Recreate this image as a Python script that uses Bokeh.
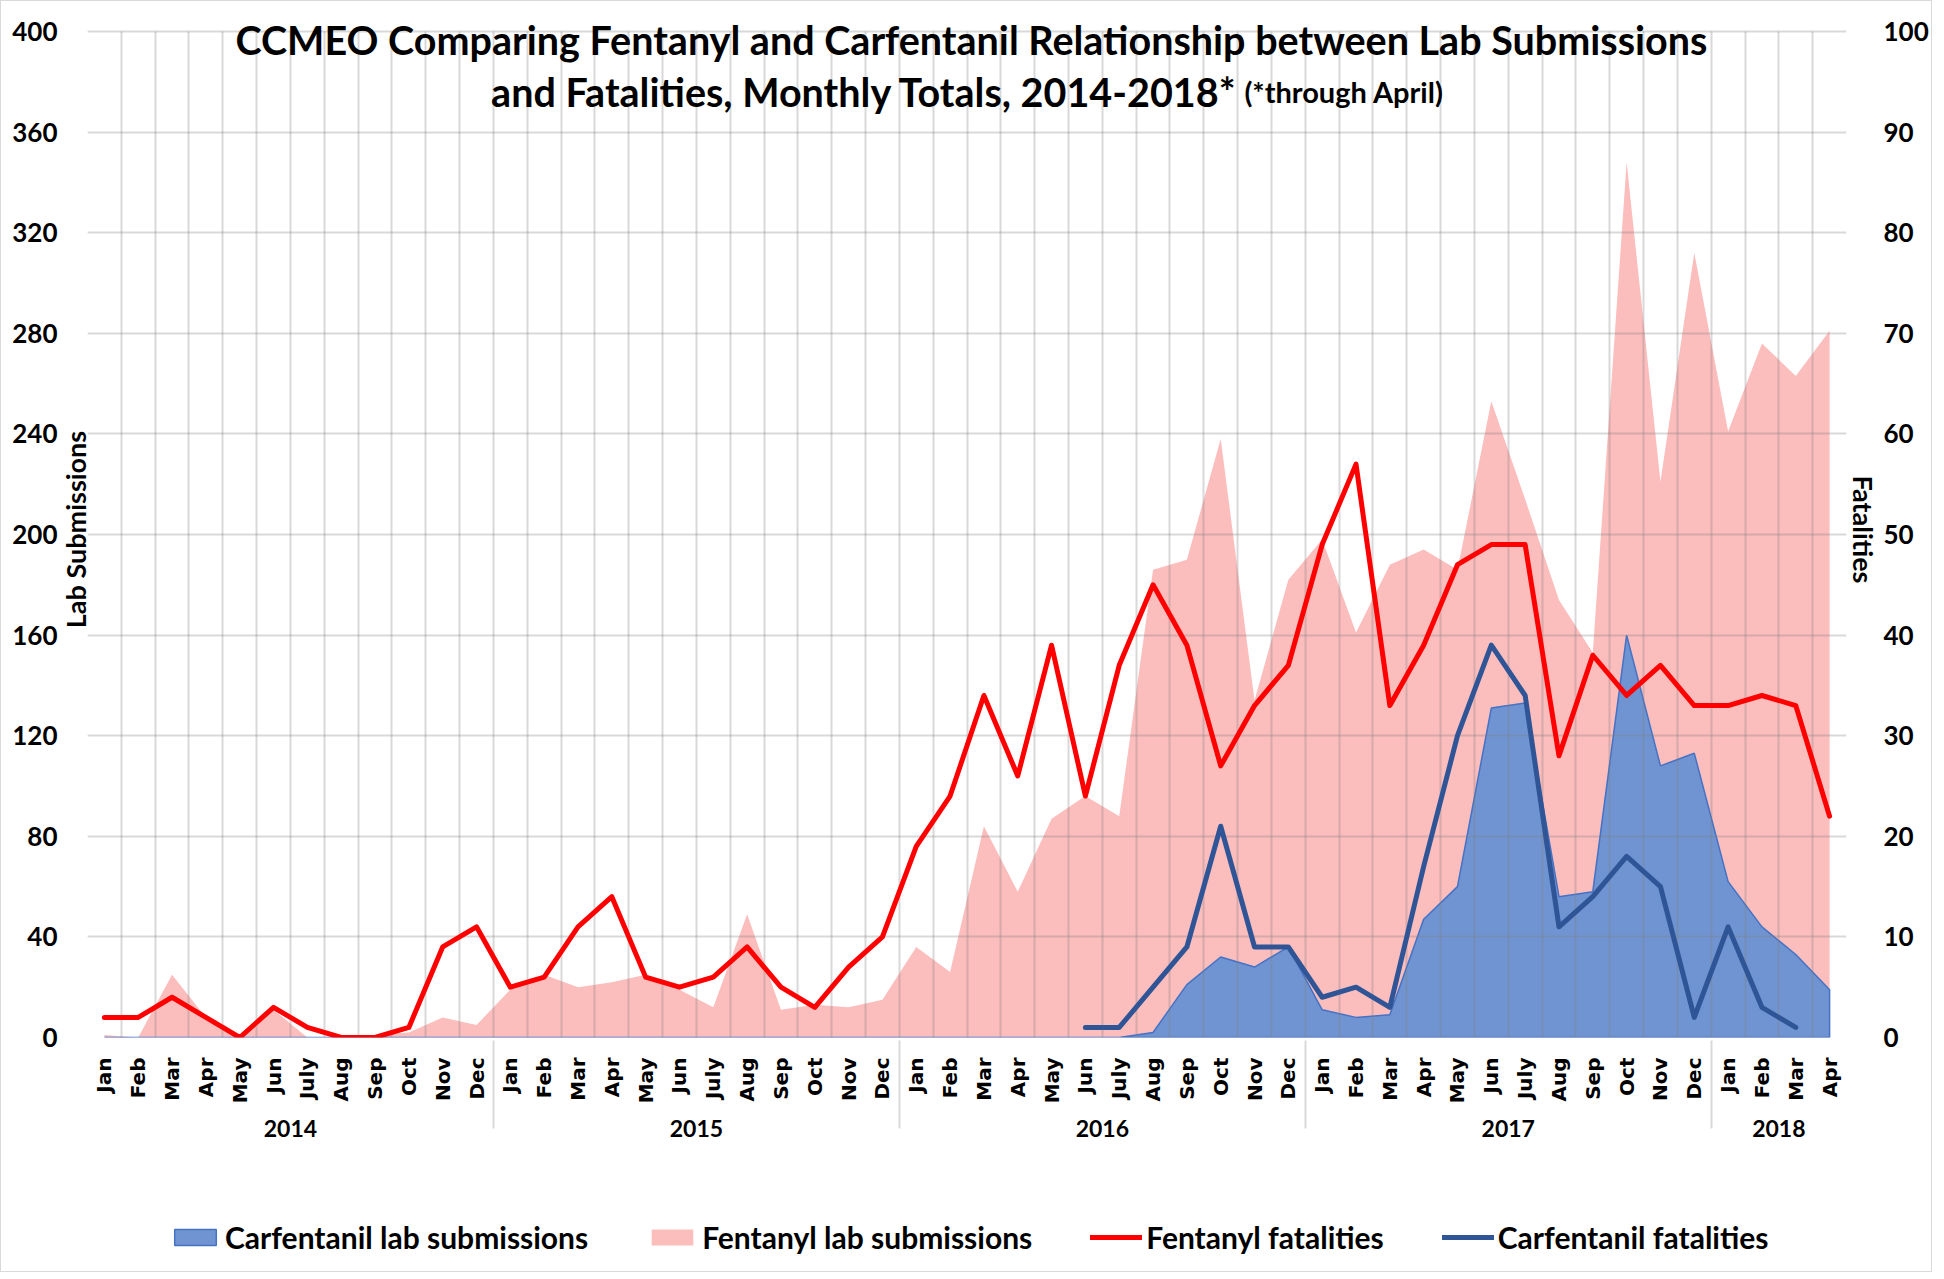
import math
from bokeh.plotting import figure
from bokeh.layouts import column
from bokeh.models import (FactorRange, Range1d, LinearAxis, FixedTicker, Legend,
                          LegendItem, Label, ColumnDataSource, Grid)
from bokeh.embed import file_html
from bokeh.resources import INLINE

# ---------------- data ----------------
years = ["2014", "2015", "2016", "2017", "2018"]
months = ["Jan", "Feb", "Mar", "Apr", "May", "Jun", "July", "Aug", "Sep", "Oct", "Nov", "Dec"]
months_2018 = ["Jan", "Feb", "Mar", "Apr"]

fentanyl_lab = [
    1, 0, 25, 8, 0, 11, 0, 0, 1, 2, 8, 5,            # 2014
    19, 25, 20, 22, 25, 19, 12, 49, 11, 13, 12, 15,  # 2015
    36, 26, 84, 58, 87, 96, 88, 186, 190, 238, 134, 182,  # 2016
    198, 161, 188, 194, 186, 253, 214, 174, 153, 348, 221, 312,  # 2017
    241, 276, 263, 281,                              # 2018
]
carfentanil_lab = [
    0, 0, 0, 0, 0, 0, 0, 0, 0, 0, 0, 0,
    0, 0, 0, 0, 0, 0, 0, 0, 0, 0, 0, 0,
    0, 0, 0, 0, 0, 0, 0, 2, 21, 32, 28, 36,
    11, 8, 9, 47, 60, 131, 133, 56, 58, 160, 108, 113,
    62, 44, 33, 19,
]
fentanyl_fatal = [
    2, 2, 4, 2, 0, 3, 1, 0, 0, 1, 9, 11,
    5, 6, 11, 14, 6, 5, 6, 9, 5, 3, 7, 10,
    19, 24, 34, 26, 39, 24, 37, 45, 39, 27, 33, 37,
    49, 57, 33, 39, 47, 49, 49, 28, 38, 34, 37, 33,
    33, 34, 33, 22,
]
carfentanil_fatal = [
    None, None, None, None, None, None, None, None, None, None, None, None,
    None, None, None, None, None, None, None, None, None, None, None, None,
    None, None, None, None, None, 1, 1, 5, 9, 21, 9, 9,
    4, 5, 3, 17, 30, 39, 34, 11, 14, 18, 15, 2,
    11, 3, 1, None,
]

left_ticks = list(range(0, 401, 40))
right_ticks = list(range(0, 101, 10))

title_line1 = "CCMEO Comparing Fentanyl and Carfentanil Relationship between Lab Submissions"
title_line2 = "and Fatalities, Monthly Totals, 2014-2018*"
title_note = "(*through April)"
legend_labels = ["Carfentanil lab submissions", "Fentanyl lab submissions",
                 "Fentanyl fatalities", "Carfentanil fatalities"]

# ---------------- style ----------------
FONT = "Lato"
PINK, BLUE_FILL, BLUE_EDGE = "#FCBDBD", "#7094D1", "#4472C4"
RED, DARK_BLUE = "#FF0000", "#2F5597"

# ---------------- build ----------------
factors = [(y, m) for y in years[:4] for m in months] + [(years[4], m) for m in months_2018]
nan = float("nan")
src = ColumnDataSource(dict(
    x=factors,
    fent_lab=fentanyl_lab,
    fent_fat=fentanyl_fatal,
    carf_fat=[nan if v is None else v for v in carfentanil_fatal],
    zero=[0] * len(factors),
))
carf_x = factors + factors[::-1]
carf_y = carfentanil_lab + [0] * len(factors)


def draw_series(fig, fatal_range):
    pink = fig.varea(x="x", y1="zero", y2="fent_lab", source=src, fill_color=PINK,
                     level="image")
    carf = fig.patch(carf_x, carf_y, fill_color=BLUE_FILL, line_color=BLUE_EDGE,
                     line_width=1.5, level="image")
    red = fig.line(x="x", y="fent_fat", source=src, y_range_name=fatal_range,
                   line_color=RED, line_width=5, line_join="round", line_cap="round")
    blue = fig.line(x="x", y="carf_fat", source=src, y_range_name=fatal_range,
                    line_color=DARK_BLUE, line_width=5, line_join="round", line_cap="round")
    return carf, pink, red, blue


# the frame reaches a little above the 400 line so the overlaid title is not clipped
Y_TOP, F_TOP = 404, 101
W = 1930
H1, H2 = 1160, 110
FW, FH = 1762, 1016
ML, MT = 86, 20
p = figure(
    x_range=FactorRange(*factors, group_padding=0, factor_padding=0, range_padding=0),
    y_range=Range1d(0, Y_TOP),
    width=W, height=H1,
    output_backend="svg", toolbar_location=None,
    x_axis_location="below", y_axis_location=None,
    min_border_left=ML, min_border_right=W - ML - FW,
    min_border_top=MT, min_border_bottom=H1 - MT - FH,
)
p.extra_y_ranges = {"fatal": Range1d(0, F_TOP)}
p.outline_line_color = None
p.background_fill_color = "white"
p.border_fill_color = "white"

draw_series(p, "fatal")

# grids
xg = p.xgrid[0]
xg.ticker = FixedTicker(ticks=list(range(len(factors) + 1)))
if "cross_bounds" in Grid.properties():
    xg.cross_bounds = (0, left_ticks[-1])
yg = p.ygrid[0]
yg.ticker = FixedTicker(ticks=left_ticks)
for g in (xg, yg):
    g.grid_line_color = "#7f7f7f"
    g.grid_line_alpha = 0.3
    g.grid_line_width = 2

# x axis
xa = p.xaxis[0]
xa.axis_line_color = None
xa.major_tick_line_color = None
xa.minor_tick_line_color = None
xa.major_label_orientation = math.pi / 2
xa.major_label_text_font = "DejaVu Sans"
xa.major_label_text_font_style = "bold"
xa.major_label_text_font_size = "20px"
xa.major_label_text_color = "black"
xa.major_label_standoff = 14
xa.group_text_font = FONT
xa.group_text_font_style = "bold"
xa.group_text_font_size = "23px"
xa.group_text_color = "black"
xa.group_label_orientation = "parallel"
xa.separator_line_color = "#d9d9d9"
xa.separator_line_width = 2


def label_axis(text, y_range_name, bounds, standoff):
    ax = LinearAxis(ticker=FixedTicker(ticks=[]), axis_label=text,
                    y_range_name=y_range_name, bounds=bounds)
    ax.axis_line_color = None
    ax.major_tick_line_color = None
    ax.minor_tick_line_color = None
    ax.major_tick_out = 0
    ax.major_tick_in = 0
    ax.axis_label_standoff = standoff
    ax.axis_label_text_font = FONT
    ax.axis_label_text_font_style = "bold"
    ax.axis_label_text_font_size = "27px"
    ax.axis_label_text_color = "black"
    return ax


def tick_axis(ticks, y_range_name, standoff):
    ax = LinearAxis(ticker=FixedTicker(ticks=ticks), y_range_name=y_range_name)
    ax.axis_line_color = None
    ax.major_tick_line_color = None
    ax.minor_tick_line_color = None
    ax.major_tick_out = 0
    ax.major_tick_in = 0
    ax.major_label_standoff = standoff
    ax.major_label_text_font = FONT
    ax.major_label_text_font_style = "bold"
    ax.major_label_text_font_size = "26px"
    ax.major_label_text_color = "black"
    return ax


p.add_layout(label_axis("Lab Submissions", "default", (42, 400), -4), "left")
p.add_layout(tick_axis(left_ticks, "default", -2), "left")
p.add_layout(label_axis("Fatalities", "fatal", (12, 100), 0), "right")
p.add_layout(tick_axis(right_ticks, "fatal", 1), "right")

# title (overlaid on the plot area, like the original)
p.add_layout(Label(x=26.13, y=397.0, text=title_line1, text_align="center",
                   text_baseline="alphabetic", text_font=FONT, text_font_style="bold",
                   text_font_size="39.5px", text_color="black"))
p.add_layout(Label(x=34.0, y=376.0, text=title_line2, text_align="right",
                   text_baseline="alphabetic", text_font=FONT, text_font_style="bold",
                   text_font_size="39.5px", text_color="black"))
p.add_layout(Label(x=34.2, y=376.0, text=title_note, text_align="left",
                   text_baseline="alphabetic", text_font=FONT, text_font_style="bold",
                   text_font_size="29px", text_color="black"))

# ---------------- legend strip ----------------
# same series drawn out of view, used only as legend keys
lg = figure(width=W, height=H2,
            x_range=FactorRange(*factors, group_padding=0, factor_padding=0, range_padding=0),
            y_range=Range1d(1000, 1001),
            output_backend="svg", toolbar_location=None,
            x_axis_location=None, y_axis_location=None, min_border=0)
lg.outline_line_color = None
lg.grid.visible = False
lg.background_fill_color = "white"
lg.border_fill_color = "white"
k_carf, k_pink, k_red, k_blue = draw_series(lg, "default")

legend = Legend(items=[
    LegendItem(label=legend_labels[0], renderers=[k_carf]),
    LegendItem(label=legend_labels[1], renderers=[k_pink]),
    LegendItem(label=legend_labels[2], renderers=[k_red]),
    LegendItem(label=legend_labels[3], renderers=[k_blue]),
], orientation="horizontal", location=(82, 16))
legend.label_text_font = FONT
legend.label_text_font_style = "bold"
legend.label_text_font_size = "30px"
legend.label_text_color = "black"
legend.glyph_width = 52
legend.glyph_height = 20
legend.label_standoff = 4
legend.spacing = 58
legend.padding = 0
legend.margin = 0
legend.border_line_color = None
legend.background_fill_alpha = 0
lg.add_layout(legend)

layout = column(p, lg, spacing=0, styles={"border": "1.5px solid #d9d9d9"})

open("out.html", "w").write(file_html(layout, INLINE))
